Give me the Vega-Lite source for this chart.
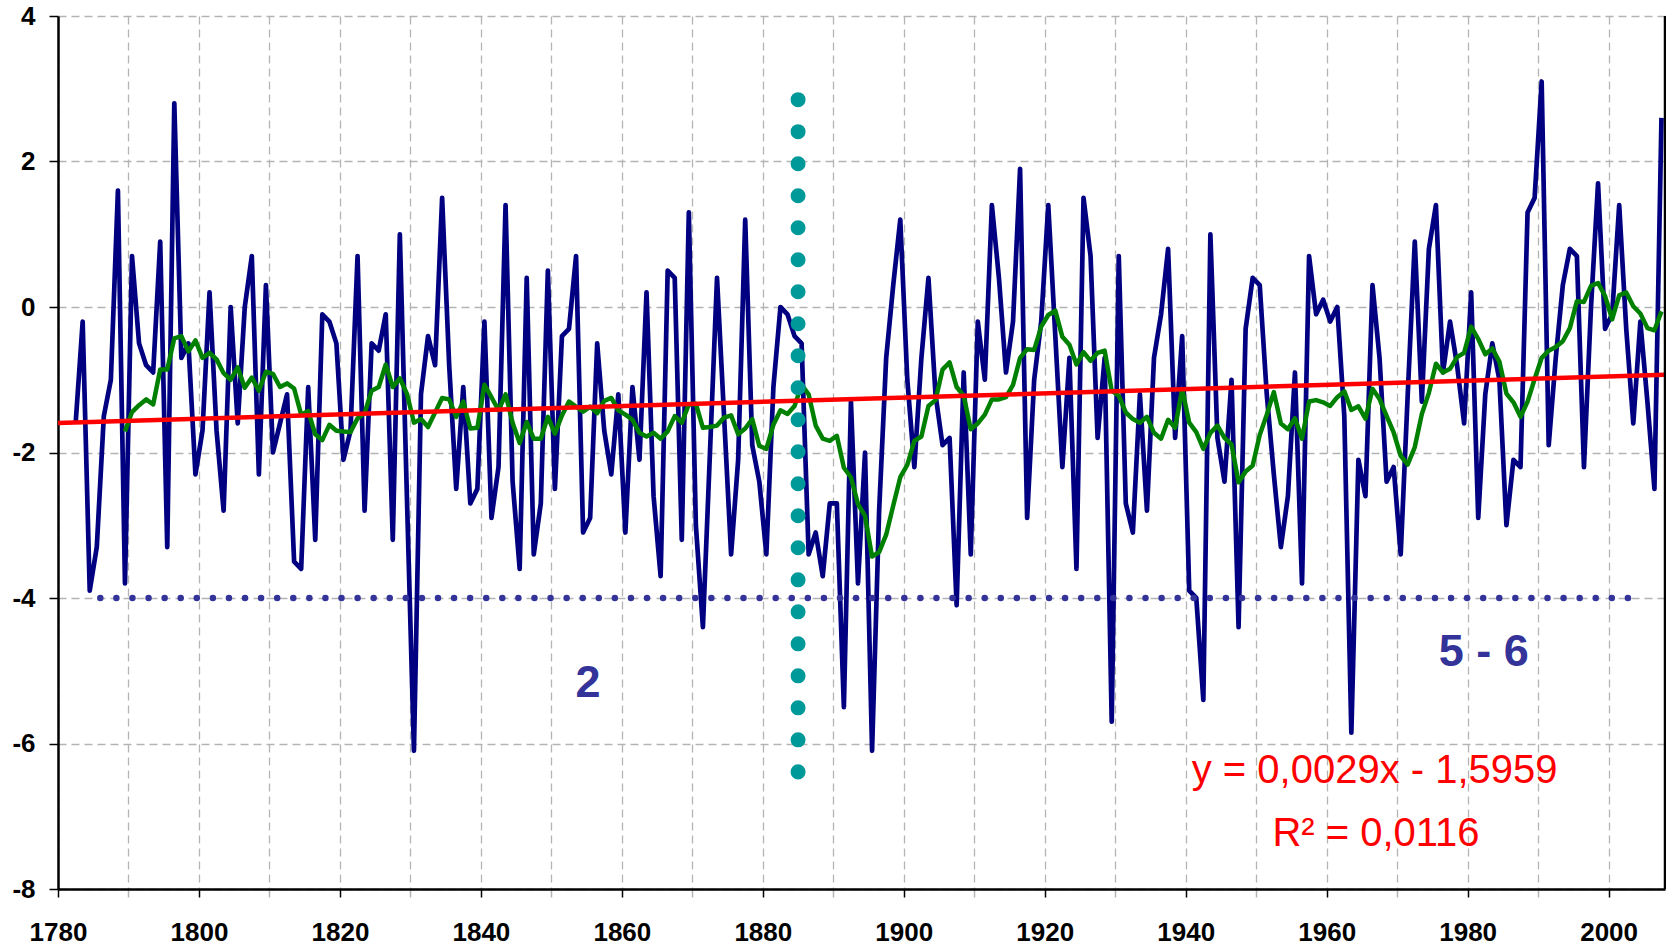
{
  "$schema": "https://vega.github.io/schema/vega-lite/v6.json",
  "width": 1607,
  "height": 873,
  "autosize": {"type": "none"},
  "padding": {"left": 58, "top": 16, "right": 1, "bottom": 56},
  "background": "white",
  "config": {"view": {"stroke": null}, "font": "Liberation Sans"},
  "datasets": {
    "temp": [
      {"year":"1782","value":-1.6},{"year":"1783","value":-0.2},{"year":"1784","value":-3.9},{"year":"1785","value":-3.3},{"year":"1786","value":-1.5},{"year":"1787","value":-1.0},{"year":"1788","value":1.6},{"year":"1789","value":-3.8},
      {"year":"1790","value":0.7},{"year":"1791","value":-0.5},{"year":"1792","value":-0.8},{"year":"1793","value":-0.9},{"year":"1794","value":0.9},{"year":"1795","value":-3.3},{"year":"1796","value":2.8},{"year":"1797","value":-0.7},{"year":"1798","value":-0.5},{"year":"1799","value":-2.3},
      {"year":"1800","value":-1.7},{"year":"1801","value":0.2},{"year":"1802","value":-1.7},{"year":"1803","value":-2.8},{"year":"1804","value":0.0},{"year":"1805","value":-1.6},{"year":"1806","value":0.0},{"year":"1807","value":0.7},{"year":"1808","value":-2.3},{"year":"1809","value":0.3},
      {"year":"1810","value":-2.0},{"year":"1811","value":-1.6},{"year":"1812","value":-1.2},{"year":"1813","value":-3.5},{"year":"1814","value":-3.6},{"year":"1815","value":-1.1},{"year":"1816","value":-3.2},{"year":"1817","value":-0.1},{"year":"1818","value":-0.2},{"year":"1819","value":-0.5},
      {"year":"1820","value":-2.1},{"year":"1821","value":-1.7},{"year":"1822","value":0.7},{"year":"1823","value":-2.8},{"year":"1824","value":-0.5},{"year":"1825","value":-0.6},{"year":"1826","value":-0.1},{"year":"1827","value":-3.2},{"year":"1828","value":1.0},{"year":"1829","value":-2.6},
      {"year":"1830","value":-6.1},{"year":"1831","value":-1.2},{"year":"1832","value":-0.4},{"year":"1833","value":-0.8},{"year":"1834","value":1.5},{"year":"1835","value":-0.8},{"year":"1836","value":-2.5},{"year":"1837","value":-1.1},{"year":"1838","value":-2.7},{"year":"1839","value":-2.5},
      {"year":"1840","value":-0.2},{"year":"1841","value":-2.9},{"year":"1842","value":-2.2},{"year":"1843","value":1.4},{"year":"1844","value":-2.4},{"year":"1845","value":-3.6},{"year":"1846","value":0.4},{"year":"1847","value":-3.4},{"year":"1848","value":-2.7},{"year":"1849","value":0.5},
      {"year":"1850","value":-2.5},{"year":"1851","value":-0.4},{"year":"1852","value":-0.3},{"year":"1853","value":0.7},{"year":"1854","value":-3.1},{"year":"1855","value":-2.9},{"year":"1856","value":-0.5},{"year":"1857","value":-1.7},{"year":"1858","value":-2.3},{"year":"1859","value":-1.2},
      {"year":"1860","value":-3.1},{"year":"1861","value":-1.1},{"year":"1862","value":-2.1},{"year":"1863","value":0.2},{"year":"1864","value":-2.6},{"year":"1865","value":-3.7},{"year":"1866","value":0.5},{"year":"1867","value":0.4},{"year":"1868","value":-3.2},{"year":"1869","value":1.3},
      {"year":"1870","value":-3.0},{"year":"1871","value":-4.4},{"year":"1872","value":-2.0},{"year":"1873","value":0.4},{"year":"1874","value":-1.5},{"year":"1875","value":-3.4},{"year":"1876","value":-2.1},{"year":"1877","value":1.2},{"year":"1878","value":-1.9},{"year":"1879","value":-2.4},
      {"year":"1880","value":-3.4},{"year":"1881","value":-1.1},{"year":"1882","value":0.0},{"year":"1883","value":-0.1},{"year":"1884","value":-0.4},{"year":"1885","value":-0.5},{"year":"1886","value":-3.4},{"year":"1887","value":-3.1},{"year":"1888","value":-3.7},{"year":"1889","value":-2.7},
      {"year":"1890","value":-2.7},{"year":"1891","value":-5.5},{"year":"1892","value":-1.3},{"year":"1893","value":-3.8},{"year":"1894","value":-2.0},{"year":"1895","value":-6.1},{"year":"1896","value":-2.8},{"year":"1897","value":-0.7},{"year":"1898","value":0.3},{"year":"1899","value":1.2},
      {"year":"1900","value":-1.0},{"year":"1901","value":-2.2},{"year":"1902","value":-0.7},{"year":"1903","value":0.4},{"year":"1904","value":-1.2},{"year":"1905","value":-1.9},{"year":"1906","value":-1.8},{"year":"1907","value":-4.1},{"year":"1908","value":-0.9},{"year":"1909","value":-3.4},
      {"year":"1910","value":-0.2},{"year":"1911","value":-1.0},{"year":"1912","value":1.4},{"year":"1913","value":0.4},{"year":"1914","value":-0.9},{"year":"1915","value":-0.2},{"year":"1916","value":1.9},{"year":"1917","value":-2.9},{"year":"1918","value":-1.0},{"year":"1919","value":-0.2},
      {"year":"1920","value":1.4},{"year":"1921","value":-0.4},{"year":"1922","value":-2.2},{"year":"1923","value":-0.7},{"year":"1924","value":-3.6},{"year":"1925","value":1.5},{"year":"1926","value":0.7},{"year":"1927","value":-1.8},{"year":"1928","value":-0.7},{"year":"1929","value":-5.7},
      {"year":"1930","value":0.7},{"year":"1931","value":-2.7},{"year":"1932","value":-3.1},{"year":"1933","value":-1.2},{"year":"1934","value":-2.8},{"year":"1935","value":-0.7},{"year":"1936","value":-0.1},{"year":"1937","value":0.8},{"year":"1938","value":-1.8},{"year":"1939","value":-0.4},
      {"year":"1940","value":-3.9},{"year":"1941","value":-4.0},{"year":"1942","value":-5.4},{"year":"1943","value":1.0},{"year":"1944","value":-1.8},{"year":"1945","value":-2.4},{"year":"1946","value":-1.0},{"year":"1947","value":-4.4},{"year":"1948","value":-0.3},{"year":"1949","value":0.4},
      {"year":"1950","value":0.3},{"year":"1951","value":-1.2},{"year":"1952","value":-2.3},{"year":"1953","value":-3.3},{"year":"1954","value":-2.6},{"year":"1955","value":-0.9},{"year":"1956","value":-3.8},{"year":"1957","value":0.7},{"year":"1958","value":-0.1},{"year":"1959","value":0.1},
      {"year":"1960","value":-0.2},{"year":"1961","value":0.0},{"year":"1962","value":-1.5},{"year":"1963","value":-5.85},{"year":"1964","value":-2.1},{"year":"1965","value":-2.6},{"year":"1966","value":0.3},{"year":"1967","value":-0.7},{"year":"1968","value":-2.4},{"year":"1969","value":-2.2},
      {"year":"1970","value":-3.4},{"year":"1971","value":-1.2},{"year":"1972","value":0.9},{"year":"1973","value":-1.3},{"year":"1974","value":0.8},{"year":"1975","value":1.4},{"year":"1976","value":-0.9},{"year":"1977","value":-0.2},{"year":"1978","value":-0.8},{"year":"1979","value":-1.6},
      {"year":"1980","value":0.2},{"year":"1981","value":-2.9},{"year":"1982","value":-1.2},{"year":"1983","value":-0.5},{"year":"1984","value":-1.0},{"year":"1985","value":-3.0},{"year":"1986","value":-2.1},{"year":"1987","value":-2.2},{"year":"1988","value":1.3},{"year":"1989","value":1.5},
      {"year":"1990","value":3.1},{"year":"1991","value":-1.9},{"year":"1992","value":-0.7},{"year":"1993","value":0.3},{"year":"1994","value":0.8},{"year":"1995","value":0.7},{"year":"1996","value":-2.2},{"year":"1997","value":0.0},{"year":"1998","value":1.7},{"year":"1999","value":-0.3},
      {"year":"2000","value":-0.1},{"year":"2001","value":1.4},{"year":"2002","value":-0.3},{"year":"2003","value":-1.6},{"year":"2004","value":-0.2},{"year":"2005","value":-1.3},{"year":"2006","value":-2.5},{"year":"2007","value":2.6}
    ],
    "trend": [{"year":"1780","value":-1.593},{"year":"2008","value":-0.932}],
    "hline": [{"year":"1786","year2":"2003","value":-4}],
    "vline": [{"year":"1885","value":2.85,"value2":-6.4}],
    "border": [{"year":"2008"}],
    "zones": [{"year":"1855-03-15","value":-5.17,"label":"2"},{"year":"1982-04-20","value":-4.74,"label":"5 - 6"}],
    "eq": [{"year":"1966-10-20","value":-6.38,"label":"y = 0,0029x - 1,5959"},{"year":"1967-01-01","value":-7.24,"label":"R² = 0,0116"}]
  },
  "layer": [
    {
      "data": {"name": "temp"},
      "mark": {"type": "line", "color": "#000080", "strokeWidth": 4.7, "strokeJoin": "round"},
      "encoding": {
        "x": {
          "field": "year", "type": "temporal", "timeUnit": "utcyear", "bandPosition": 0.5, "title": null,
          "scale": {"type": "utc", "domain": [{"year": 1780, "utc": true}, {"year": 2008, "utc": true}]},
          "axis": {
            "tickCount": {"interval": "year", "step": 10},
            "labelExpr": "utcyear(datum.value) % 20 === 0 ? utcFormat(datum.value, '%Y') : ''",
            "grid": true, "gridDash": [8, 5], "gridColor": "#b4b4b4", "gridWidth": 1.3,
            "domainColor": "#000000", "domainWidth": 2.5,
            "tickColor": {"condition": {"test": "utcyear(datum.value) % 20 !== 0", "value": "#b4b4b4"}, "value": "#000000"},
            "tickSize": 8, "tickWidth": 1.5,
            "labelFont": "Liberation Sans", "labelFontSize": 26, "labelFontWeight": "bold", "labelColor": "#000000",
            "labelPadding": 22, "labelFlush": false, "labelOverlap": false
          }
        },
        "y": {
          "field": "value", "type": "quantitative", "title": null,
          "scale": {"domain": [-8, 4], "nice": false, "zero": false},
          "axis": {
            "values": [-8, -6, -4, -2, 0, 2, 4],
            "labelExpr": "datum.value + ''",
            "grid": true, "gridDash": [8, 5], "gridColor": "#b4b4b4", "gridWidth": 1.3,
            "domainColor": "#000000", "domainWidth": 2.5,
            "tickColor": "#000000", "tickSize": 9, "tickWidth": 1.5,
            "labelFont": "Liberation Sans", "labelFontSize": 26, "labelFontWeight": "bold", "labelColor": "#000000",
            "labelPadding": 14, "labelFlush": false, "labelOverlap": false
          }
        }
      }
    },
    {
      "data": {"name": "temp"},
      "transform": [
        {"window": [{"op": "mean", "field": "value", "as": "ma"}, {"op": "count", "as": "n"}], "frame": [-9, 0], "sort": [{"field": "year"}]},
        {"filter": {"field": "n", "gte": 8}}
      ],
      "mark": {"type": "line", "color": "#008000", "strokeWidth": 4.5, "strokeJoin": "round"},
      "encoding": {
        "x": {"field": "year", "type": "temporal", "timeUnit": "utcyear", "bandPosition": 0.5, "title": null, "scale": {"type": "utc"}},
        "y": {"field": "ma", "type": "quantitative", "title": null}
      }
    },
    {
      "data": {"name": "trend"},
      "mark": {"type": "line", "color": "#ff0000", "strokeWidth": 4.5},
      "encoding": {
        "x": {"field": "year", "type": "temporal", "title": null, "scale": {"type": "utc"}},
        "y": {"field": "value", "type": "quantitative", "title": null}
      }
    },
    {
      "data": {"name": "hline"},
      "mark": {"type": "rule", "color": "#333399", "strokeWidth": 6.5, "strokeDash": [0.01, 16.07], "strokeCap": "round"},
      "encoding": {
        "x": {"field": "year", "type": "temporal", "title": null, "scale": {"type": "utc"}},
        "x2": {"field": "year2"},
        "y": {"field": "value", "type": "quantitative", "title": null}
      }
    },
    {
      "data": {"name": "vline"},
      "mark": {"type": "rule", "color": "#009999", "strokeWidth": 15, "strokeDash": [0.01, 32], "strokeCap": "round"},
      "encoding": {
        "x": {"field": "year", "type": "temporal", "title": null, "scale": {"type": "utc"}},
        "y": {"field": "value", "type": "quantitative", "title": null},
        "y2": {"field": "value2"}
      }
    },
    {
      "data": {"name": "border"},
      "mark": {"type": "rule", "color": "#000000", "strokeWidth": 2.5},
      "encoding": {
        "x": {"field": "year", "type": "temporal", "title": null, "scale": {"type": "utc"}}
      }
    },
    {
      "data": {"name": "zones"},
      "mark": {"type": "text", "color": "#333399", "font": "Liberation Sans", "fontSize": 45, "fontWeight": "bold", "align": "center", "baseline": "middle"},
      "encoding": {
        "x": {"field": "year", "type": "temporal", "title": null, "scale": {"type": "utc"}},
        "y": {"field": "value", "type": "quantitative", "title": null},
        "text": {"field": "label"}
      }
    },
    {
      "data": {"name": "eq"},
      "mark": {"type": "text", "color": "#ff0000", "font": "Liberation Sans", "fontSize": 40, "align": "center", "baseline": "middle"},
      "encoding": {
        "x": {"field": "year", "type": "temporal", "title": null, "scale": {"type": "utc"}},
        "y": {"field": "value", "type": "quantitative", "title": null},
        "text": {"field": "label"}
      }
    }
  ]
}
